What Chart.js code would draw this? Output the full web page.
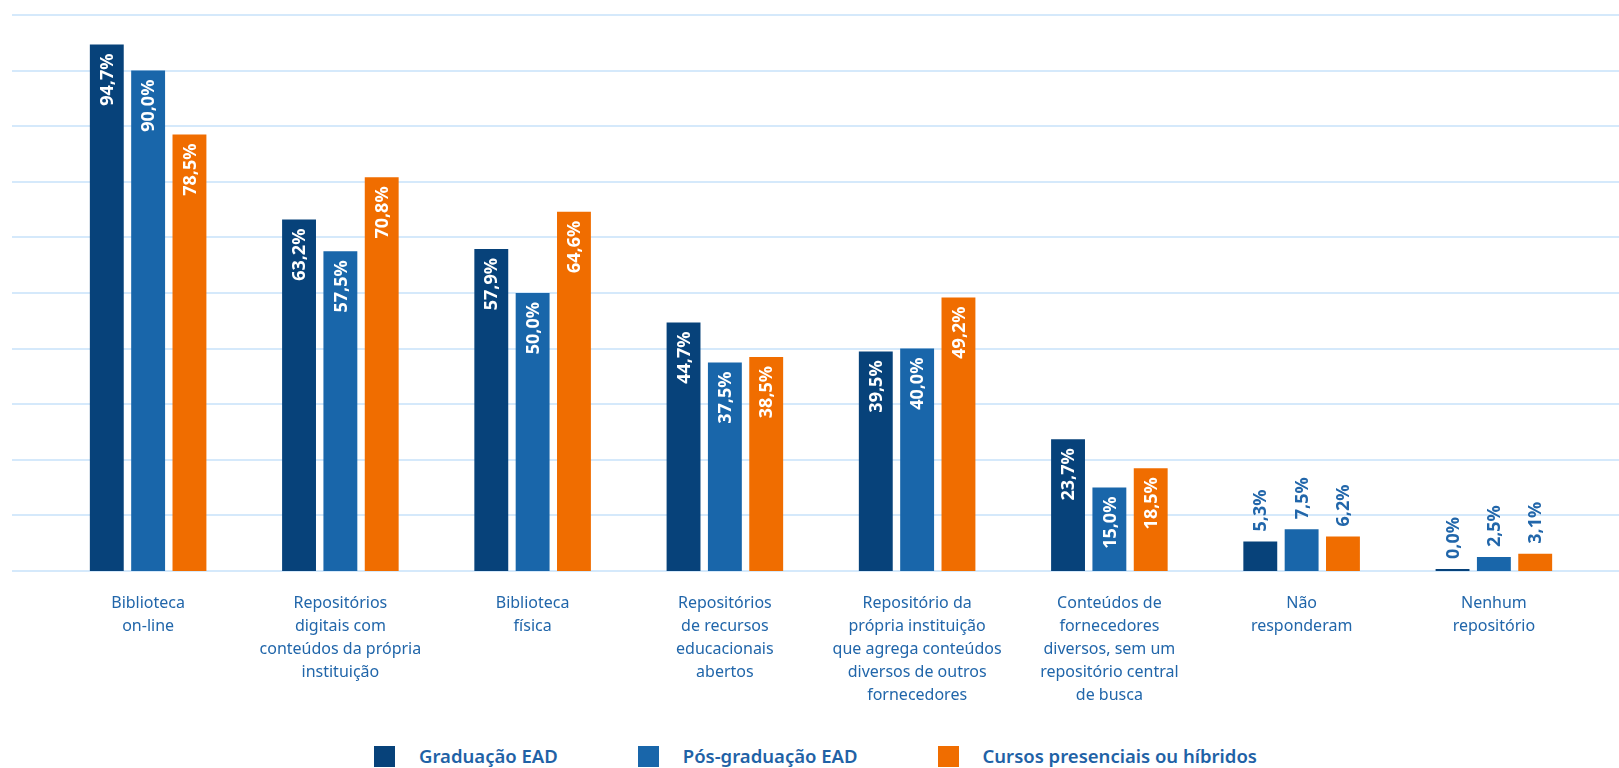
<!DOCTYPE html>
<html lang="pt-BR">
<head>
<meta charset="utf-8">
<title>Repositórios</title>
<script src="https://cdn.jsdelivr.net/npm/chart.js@4/dist/chart.umd.min.js"></script>
<style>
  html, body { margin: 0; padding: 0; background: #fff; }
  #wrap { position: relative; width: 1619px; height: 768px; }
  #legend {
    position: absolute; left: 0; top: 745px; width: 1619px;
    display: flex; justify-content: center; padding-left: 12px; box-sizing: border-box;
    font-family: "Noto Sans", sans-serif; font-weight: 600; font-size: 18.5px; color: #1f62a6;
    line-height: 22px;
  }
  .item { display: flex; align-items: center; margin: 0 40px; }
  .box { width: 21px; height: 21px; margin-right: 24px; }
</style>
</head>
<body>
<div id="wrap">
  <canvas id="chart" width="1619" height="740"></canvas>
  <div id="legend"></div>
</div>
<script>
// Categorias (rótulos quebrados em linhas)
const categories = [
  ["Biblioteca", "on-line"],
  ["Repositórios", "digitais com", "conteúdos da própria", "instituição"],
  ["Biblioteca", "física"],
  ["Repositórios", "de recursos", "educacionais", "abertos"],
  ["Repositório da", "própria instituição", "que agrega conteúdos", "diversos de outros", "fornecedores"],
  ["Conteúdos de", "fornecedores", "diversos, sem um", "repositório central", "de busca"],
  ["Não", "responderam"],
  ["Nenhum", "repositório"]
];

const seriesNames = ["Graduação EAD", "Pós-graduação EAD", "Cursos presenciais ou híbridos"];
const graduacao = [94.7, 63.2, 57.9, 44.7, 39.5, 23.7, 5.3, 0.0];
const posGraduacao = [90.0, 57.5, 50.0, 37.5, 40.0, 15.0, 7.5, 2.5];
const presenciais = [78.5, 70.8, 64.6, 38.5, 49.2, 18.5, 6.2, 3.1];
const yTicks = [0, 10, 20, 30, 40, 50, 60, 70, 80, 90, 100];

const colors = ["#07427a", "#1966aa", "#f06d00"];
const textBlue = "#2166aa";

function fmt(v) {
  return v.toFixed(1).replace(".", ",") + "%";
}

// linhas de grade horizontais em toda a largura
const fullGrid = {
  id: "fullGrid",
  beforeDatasetsDraw(chart) {
    const ctx = chart.ctx;
    const y = chart.scales.y;
    ctx.save();
    ctx.strokeStyle = "#d5e9fb";
    ctx.lineWidth = 2;
    yTicks.forEach(t => {
      const py = Math.round(y.getPixelForValue(t));
      ctx.beginPath();
      ctx.moveTo(12, py);
      ctx.lineTo(chart.width, py);
      ctx.stroke();
    });
    ctx.restore();
  }
};

// valores na vertical: dentro da barra ou acima quando a barra é baixa
const barValues = {
  id: "barValues",
  afterDatasetsDraw(chart) {
    const ctx = chart.ctx;
    ctx.save();
    ctx.font = "700 18px 'Noto Sans', sans-serif";
    ctx.textBaseline = "middle";
    chart.data.datasets.forEach((ds, i) => {
      chart.getDatasetMeta(i).data.forEach((bar, j) => {
        const v = ds.data[j];
        ctx.save();
        ctx.translate(bar.x + 1, bar.y);
        ctx.rotate(-Math.PI / 2);
        if (v >= 10) {
          ctx.fillStyle = "#ffffff";
          ctx.textAlign = "right";
          ctx.fillText(fmt(v), -9, 0);
        } else {
          ctx.fillStyle = textBlue;
          ctx.textAlign = "left";
          ctx.fillText(fmt(v), 10, 0);
        }
        ctx.restore();
      });
    });
    ctx.restore();
  }
};

const ctx = document.getElementById("chart").getContext("2d");
const chart = new Chart(ctx, {
  type: "bar",
  data: {
    labels: categories,
    datasets: [
      { label: seriesNames[0], data: graduacao, backgroundColor: colors[0] },
      { label: seriesNames[1], data: posGraduacao, backgroundColor: colors[1] },
      { label: seriesNames[2], data: presenciais, backgroundColor: colors[2] }
    ]
  },
  options: {
    responsive: false,
    animation: false,
    events: [],
    layout: { padding: { left: 52, right: 29, top: 15, bottom: 0 } },
    datasets: {
      bar: { categoryPercentage: 0.645, barPercentage: 0.82, minBarLength: 2 }
    },
    plugins: {
      legend: { display: false },
      tooltip: { enabled: false }
    },
    scales: {
      x: {
        grid: { display: false },
        border: { display: false },
        ticks: {
          color: textBlue,
          font: { family: "'Noto Sans', sans-serif", size: 16, lineHeight: 1.44 },
          padding: 13,
          maxRotation: 0,
          autoSkip: false
        },
        afterFit(scale) { scale.height = 169; }
      },
      y: {
        display: false,
        min: 0,
        max: 100
      }
    }
  },
  plugins: [fullGrid, barValues]
});

// legenda
const legend = document.getElementById("legend");
seriesNames.forEach((name, i) => {
  const item = document.createElement("div");
  item.className = "item";
  const box = document.createElement("span");
  box.className = "box";
  box.style.background = colors[i];
  const txt = document.createElement("span");
  txt.textContent = name;
  item.appendChild(box);
  item.appendChild(txt);
  legend.appendChild(item);
});
</script>
</body>
</html>
